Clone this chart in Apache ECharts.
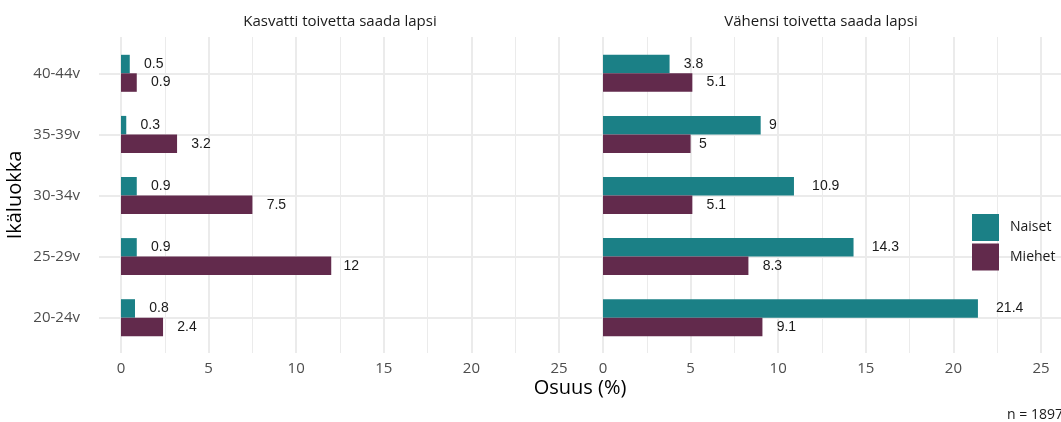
<!DOCTYPE html>
<html lang="fi">
<head>
  <meta charset="UTF-8">
  <title>Ikäluokka</title>
  <script src="https://cdn.jsdelivr.net/npm/echarts@6/dist/echarts.min.js"></script>
  <style>
    html,body{padding:0;margin:0;background:#fff;}
    #chart{width:1061px;height:422px;}
  </style>
</head>
<body>
  <div id="chart"></div>
  <script>
    // data
    const ages = ['20-24v', '25-29v', '30-34v', '35-39v', '40-44v'];
    const panels = ['Kasvatti toivetta saada lapsi', 'Vähensi toivetta saada lapsi'];
    const groups = ['Naiset', 'Miehet'];
    const kasvattiNaiset = [0.8, 0.9, 0.9, 0.3, 0.5];
    const kasvattiMiehet = [2.4, 12, 7.5, 3.2, 0.9];
    const vahensiNaiset = [21.4, 14.3, 10.9, 9, 3.8];
    const vahensiMiehet = [9.1, 8.3, 5.1, 5, 5.1];
    const caption = 'n = 1897';

    const colors = ['#1b8086', '#622a4c'];
    const grid = '#ebebeb';
    const sans = "'Open Sans', sans-serif";
    const labelFont = "'Liberation Sans', Arial, sans-serif";

    // layout (px)
    const pxPerUnit = 17.52;
    const xMax = 27.5;
    const panelLeft = [121, 603];
    const catTop = 73.3, catH = 244.4;
    const plotTop = 37, plotH = 316;

    // label sits right of the bar, offset by about half its own width
    function textW(s) {
      let w = 0;
      for (const c of s) w += (c === '.') ? 3.9 : 7.8;
      return w;
    }
    function items(vals) {
      return vals.map(v => ({value: v, label: {distance: 4.5 + textW(String(v)) / 2}}));
    }

    const grids = [
      {left: 99, right: 0, top: catTop, height: catH, outerBoundsMode: 'none'}  // horizontal lines + y labels
    ];
    const xAxes = [{gridIndex: 0, type: 'value', min: 0, max: 1, show: false}];
    const yAxes = [{
      gridIndex: 0, type: 'category', data: ages, boundaryGap: false,
      axisLine: {show: false}, axisTick: {show: false},
      axisLabel: {color: '#4d4d4d', fontFamily: sans, fontSize: 15, margin: 19},
      splitLine: {show: true, lineStyle: {color: grid, width: 2}}
    }];
    const series = [];
    const dataSets = [[kasvattiNaiset, kasvattiMiehet], [vahensiNaiset, vahensiMiehet]];

    panels.forEach((p, i) => {
      const w = xMax * pxPerUnit;
      // vertical grid lines, full panel height
      const gV = grids.length;
      grids.push({left: panelLeft[i], width: w, top: plotTop, height: plotH, outerBoundsMode: 'none'});
      xAxes.push({
        gridIndex: gV, type: 'value', min: 0, max: xMax, interval: 5,
        axisLine: {show: false}, axisTick: {show: false},
        axisLabel: {
          color: '#4d4d4d', fontFamily: sans, fontSize: 15, margin: 8,
          formatter: v => (v % 5 === 0 && v <= 25) ? String(v) : ''
        },
        splitLine: {show: true, lineStyle: {color: grid, width: 2}}
      });
      xAxes.push({
        gridIndex: gV, type: 'value', min: 0, max: xMax, interval: 2.5, show: true,
        axisLine: {show: false}, axisTick: {show: false}, axisLabel: {show: false},
        splitLine: {show: true, lineStyle: {color: grid, width: 1}}
      });
      yAxes.push({gridIndex: gV, type: 'value', show: false, splitLine: {show: false}});

      // bars
      const gB = grids.length;
      grids.push({left: panelLeft[i], width: w, top: catTop, height: catH, outerBoundsMode: 'none'});
      const xi = xAxes.length;
      xAxes.push({gridIndex: gB, type: 'value', min: 0, max: xMax, show: false});
      const yi = yAxes.length;
      yAxes.push({gridIndex: gB, type: 'category', data: ages, boundaryGap: false, show: false});

      groups.forEach((g, k) => {
        series.push({
          name: g, type: 'bar', xAxisIndex: xi, yAxisIndex: yi,
          barWidth: 18.5, barGap: '0%', clip: false,
          itemStyle: {color: colors[k]},
          label: {show: true, position: 'right', color: '#1a1a1a', fontFamily: labelFont, fontSize: 14},
          data: items(dataSets[i][k])
        });
      });
    });

    const option = {
      animation: false,
      grid: grids,
      xAxis: xAxes,
      yAxis: yAxes,
      legend: {
        data: groups, orient: 'vertical', left: 972, top: 214, padding: 0,
        itemWidth: 27, itemHeight: 27, itemGap: 2.5, icon: 'rect',
        textStyle: {color: '#1a1a1a', fontFamily: sans, fontSize: 14, padding: [0, 0, 0, 6]}
      },
      series: series,
      graphic: [
        {type: 'text', x: 340, y: 22, style: {text: panels[0], textAlign: 'center', textVerticalAlign: 'middle', fill: '#1a1a1a', font: "15px 'Open Sans', sans-serif"}},
        {type: 'text', x: 821, y: 22, style: {text: panels[1], textAlign: 'center', textVerticalAlign: 'middle', fill: '#1a1a1a', font: "15px 'Open Sans', sans-serif"}},
        {type: 'text', x: 580, y: 388, style: {text: 'Osuus (%)', textAlign: 'center', textVerticalAlign: 'middle', fill: '#000', font: "20px 'Open Sans', sans-serif"}},
        {type: 'text', x: 15, y: 195, rotation: Math.PI / 2, style: {text: 'Ikäluokka', textAlign: 'center', textVerticalAlign: 'middle', fill: '#000', font: "20px 'Open Sans', sans-serif"}},
        {type: 'text', x: 1063, y: 415, style: {text: caption, textAlign: 'right', textVerticalAlign: 'middle', fill: '#1a1a1a', font: "14px 'Open Sans', sans-serif"}}
      ]
    };

    const myChart = echarts.init(document.getElementById('chart'));
    myChart.setOption(option);
  </script>
</body>
</html>
